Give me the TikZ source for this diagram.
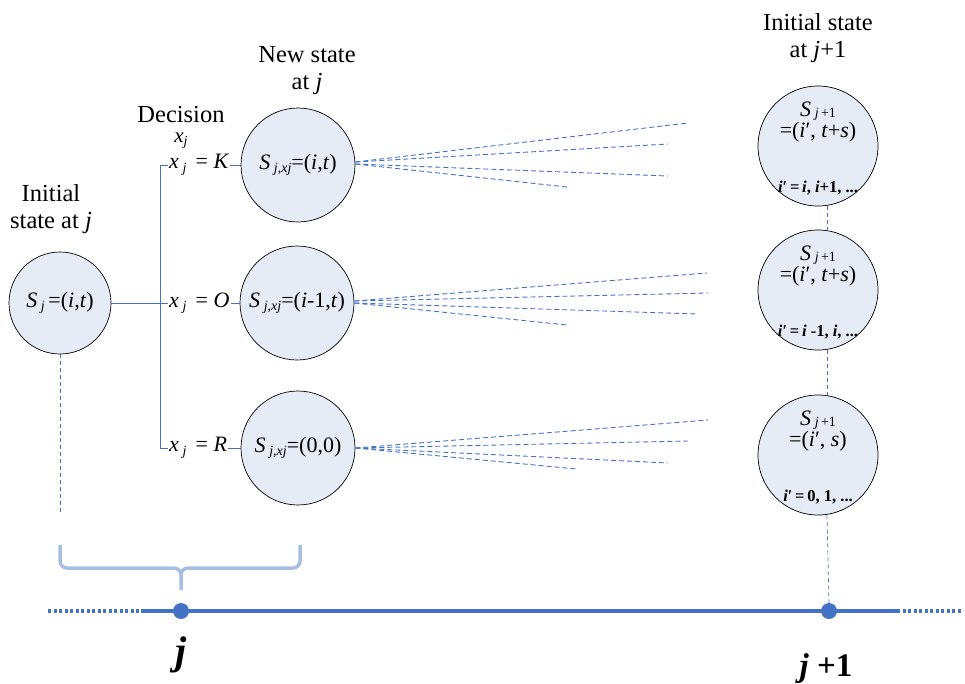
\documentclass[tikz,border=0pt]{standalone}
\usepackage{fontspec}
\IfFontExistsTF{LiberationSerif-Regular.ttf}{%
  \setmainfont{LiberationSerif}[Extension=.ttf, UprightFont=*-Regular, BoldFont=*-Bold, ItalicFont=*-Italic, BoldItalicFont=*-BoldItalic]}{%
  \setmainfont{Liberation Serif}}
\definecolor{lineblue}{HTML}{4472C4}
\definecolor{circfill}{HTML}{E6ECF6}
\definecolor{bracecol}{HTML}{A7BEDF}
\newcommand{\subx}[1]{\raisebox{-0.35ex}{\fontsize{14}{14}\selectfont\itshape #1}}
\newcommand{\subr}[1]{\raisebox{-0.1ex}{\fontsize{14}{14}\selectfont #1}}
\tikzset{
  statecirc/.style={circle, draw=black, fill=circfill, line width=0.7pt, inner sep=0pt, font=\fontsize{22}{24}\selectfont},
  txt/.style={inner sep=0pt, font=\fontsize{24.5}{27}\selectfont, align=center},
  tree/.style={draw=lineblue, line width=0.9pt},
  fan/.style={draw=lineblue, line width=0.9pt, dash pattern=on 5pt off 3pt},
  vdash/.style={draw=lineblue, line width=0.7pt, dash pattern=on 4pt off 3pt},
  lbl/.style={inner sep=1pt, font=\fontsize{22}{24}\selectfont},
  inner/.style={inner sep=0pt, anchor=base},
}
\begin{document}
\begin{tikzpicture}[x=1pt,y=-1pt]
\useasboundingbox (0,0) rectangle (965,683);

% titles
\node[txt] (tinit) at (51,209) {Initial\\state at \textit{j}};
\node[inner, font=\fontsize{24.5}{27}\selectfont] (tdec) at (181,122) {Decision};
\node[inner, font=\fontsize{21}{22}\selectfont] (tdecx) at (181,142) {\textit{x}\subx{j}};
\node[txt] (tnew) at (307,71) {New state\\at \textit{j}};
\node[txt] (tnext) at (818,38) {Initial state\\at \textit{j}+1};

% circles
\node[statecirc, minimum size=102pt] (c0) at (60,303) {\textit{S}\,\subx{j}\,=(\textit{i},\textit{t})};
\node[statecirc, minimum size=114pt] (n1) at (298,165) {\textit{S}\,\subx{j,xj}=(\textit{i},\textit{t})};
\node[statecirc, minimum size=114pt] (n2) at (297,303) {\textit{S}\,\subx{j,xj}=(\textit{i}-1,\textit{t})};
\node[statecirc, minimum size=114pt] (n3) at (298,448) {\textit{S}\,\subx{j,xj}=(0,0)};

\node[statecirc, minimum size=120pt] (r1) at (818,146) {};
\node[statecirc, minimum size=120pt] (r2) at (818,290) {};
\node[statecirc, minimum size=120pt] (r3) at (818,455) {};

\foreach \r/\txt/\bot in {r1/{\textit{t}+\textit{s}}/{\textit{i}, \textit{i}+1, ...},
                          r2/{\textit{t}+\textit{s}}/{\textit{i} -1, \textit{i}, ...},
                          r3/{\textit{s}}/{0, 1, ...}}{
  \node[inner, font=\fontsize{22}{24}\selectfont] (\r s) at ([yshift=30pt]\r.center) {\textit{S}\,\subr{\textit{j}\,+1}};
  \node[inner, font=\fontsize{22}{24}\selectfont] (\r e) at ([yshift=9pt]\r.center) {=(\textit{i}′, \txt)};
  \node[inner, font=\fontsize{16.5}{18}\selectfont\bfseries] (\r b) at ([yshift=-46pt]\r.center) {\textit{i}′\,=\,\bot};
}

% decision labels
\node[lbl, anchor=west] (xK) at (168,165) {\textit{x}\,\subx{j}\, = \textit{K}};
\node[lbl, anchor=west] (xO) at (168,303) {\textit{x}\,\subx{j}\, = \textit{O}};
\node[lbl, anchor=west] (xR) at (168,448) {\textit{x}\,\subx{j}\, = \textit{R}};

\coordinate (bar) at (160,448);
\draw[tree] (xK.west) -| (bar) -- (xR.west);
\draw[tree] (c0.east) -- (xO.west);
\draw[tree] (xK.east) -- (n1.west);
\draw[tree] (xO.east) -- (n2.west);
\draw[tree] (xR.east) -- (n3.west);

% fan-out dashed lines
\coordinate (f11) at (688,123); \coordinate (f12) at (668,144);
\coordinate (f13) at (668,176); \coordinate (f14) at (567,187);
\coordinate (f21) at (707,273); \coordinate (f22) at (708,293);
\coordinate (f23) at (698,314); \coordinate (f24) at (567,325);
\coordinate (f31) at (708,420); \coordinate (f32) at (688,441);
\coordinate (f33) at (668,463); \coordinate (f34) at (577,469);
\draw[fan] ([yshift=3pt]n1.east) -- (f11);
\draw[fan] ([yshift=3pt]n1.east) -- (f12);
\draw[fan] ([yshift=1pt]n1.east) -- (f13);
\draw[fan] ([yshift=1pt]n1.east) -- (f14);
\draw[fan] ([yshift=2pt]n2.east) -- (f21);
\draw[fan] ([yshift=2pt]n2.east) -- (f22);
\draw[fan] (n2.east) -- (f23);
\draw[fan] (n2.east) -- (f24);
\draw[fan] (n3.east) -- (f31);
\draw[fan] (n3.east) -- (f32);
\draw[fan] (n3.east) -- (f33);
\draw[fan] (n3.east) -- (f34);

% timeline
\coordinate (tlL) at (48,611); \coordinate (tlA) at (141,611);
\coordinate (tlB) at (897,611); \coordinate (tlR) at (962,611);
\draw[lineblue, line width=3.5pt, dash pattern=on 3pt off 2.5pt] (tlL) -- (tlA);
\draw[lineblue, line width=3.5pt] (tlA) -- (tlB);
\draw[lineblue, line width=3.5pt, dash pattern=on 3pt off 2.5pt] (tlB) -- (tlR);
\node[circle, fill=lineblue, minimum size=16pt, inner sep=0pt] (dj) at (181,611) {};
\node[circle, fill=lineblue, minimum size=16pt, inner sep=0pt] (dj1) at (829,611) {};

% vertical dashed guides
\coordinate (g0) at (60,512);
\draw[vdash] (c0.south) -- (g0);
\coordinate (gx) at (827,0);
\draw[vdash] (r1.south -| gx) -- (r2.north -| gx);
\draw[vdash] (r2.south -| gx) -- (r3.north -| gx);
\draw[vdash] (r3.south -| gx) -- (dj1.north);

% brace
\coordinate (bl) at (60,545); \coordinate (br) at (300,545); \coordinate (bt) at (181,590);
\draw[bracecol, line width=3.5pt, line join=round]
  (bl) -- (60,561) to[out=-90,in=180] (67,568) -- (174,568) to[out=0,in=90] (181,575) -- (bt);
\draw[bracecol, line width=3.5pt, line join=round]
  (br) -- (300,561) to[out=-90,in=0] (293,568) -- (188,568) to[out=180,in=90] (181,575);

% bottom labels
\node[inner, font=\fontsize{40}{40}\selectfont\bfseries\itshape] (lj) at (181,664) {j};
\node[inner, font=\fontsize{33}{33}\selectfont\bfseries] (lj1) at (826,676) {\textit{j} +1};
\end{tikzpicture}
\end{document}
